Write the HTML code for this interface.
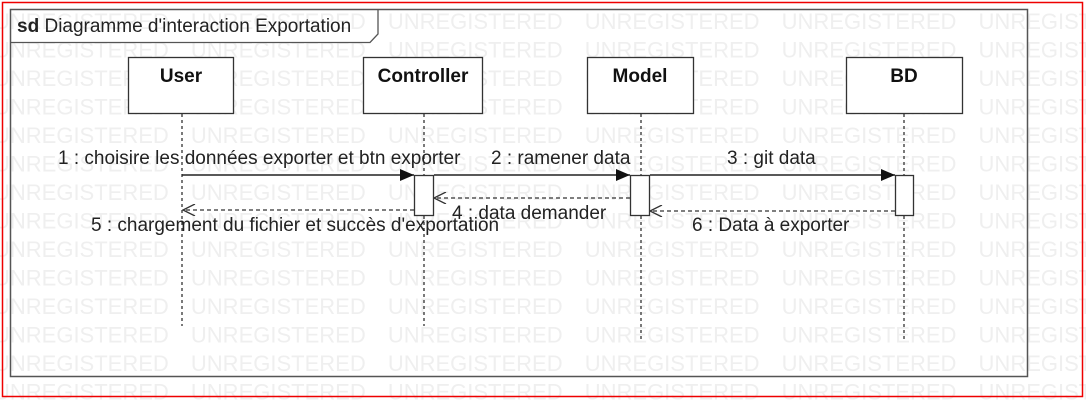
<!DOCTYPE html>
<html><head><meta charset="utf-8"><style>
html,body{margin:0;padding:0;background:#fff;}
svg{display:block;}
text{font-family:"Liberation Sans",sans-serif;}
</style></head><body>
<svg width="1086" height="404" viewBox="0 0 1086 404" xmlns="http://www.w3.org/2000/svg">
<defs>
<marker id="fill" markerWidth="14" markerHeight="12" refX="14" refY="6" orient="auto" markerUnits="userSpaceOnUse">
<path d="M0,0 L14,6 L0,12 Z" fill="#111"/>
</marker>
<marker id="open" markerWidth="14" markerHeight="12" refX="13" refY="6" orient="auto" markerUnits="userSpaceOnUse">
<path d="M1,0 L13,6 L1,12" fill="none" stroke="#333" stroke-width="1.3"/>
</marker>
</defs>
<rect x="0" y="0" width="1086" height="404" fill="#fff"/>
<g font-size="22" fill="#efefef">
<text x="-6" y="29" word-spacing="16">UNREGISTERED UNREGISTERED UNREGISTERED UNREGISTERED UNREGISTERED UNREGISTERED</text>
<text x="-6" y="57.5" word-spacing="16">UNREGISTERED UNREGISTERED UNREGISTERED UNREGISTERED UNREGISTERED UNREGISTERED</text>
<text x="-6" y="86" word-spacing="16">UNREGISTERED UNREGISTERED UNREGISTERED UNREGISTERED UNREGISTERED UNREGISTERED</text>
<text x="-6" y="114.5" word-spacing="16">UNREGISTERED UNREGISTERED UNREGISTERED UNREGISTERED UNREGISTERED UNREGISTERED</text>
<text x="-6" y="143" word-spacing="16">UNREGISTERED UNREGISTERED UNREGISTERED UNREGISTERED UNREGISTERED UNREGISTERED</text>
<text x="-6" y="171.5" word-spacing="16">UNREGISTERED UNREGISTERED UNREGISTERED UNREGISTERED UNREGISTERED UNREGISTERED</text>
<text x="-6" y="200" word-spacing="16">UNREGISTERED UNREGISTERED UNREGISTERED UNREGISTERED UNREGISTERED UNREGISTERED</text>
<text x="-6" y="228.5" word-spacing="16">UNREGISTERED UNREGISTERED UNREGISTERED UNREGISTERED UNREGISTERED UNREGISTERED</text>
<text x="-6" y="257" word-spacing="16">UNREGISTERED UNREGISTERED UNREGISTERED UNREGISTERED UNREGISTERED UNREGISTERED</text>
<text x="-6" y="285.5" word-spacing="16">UNREGISTERED UNREGISTERED UNREGISTERED UNREGISTERED UNREGISTERED UNREGISTERED</text>
<text x="-6" y="314" word-spacing="16">UNREGISTERED UNREGISTERED UNREGISTERED UNREGISTERED UNREGISTERED UNREGISTERED</text>
<text x="-6" y="342.5" word-spacing="16">UNREGISTERED UNREGISTERED UNREGISTERED UNREGISTERED UNREGISTERED UNREGISTERED</text>
<text x="-6" y="371" word-spacing="16">UNREGISTERED UNREGISTERED UNREGISTERED UNREGISTERED UNREGISTERED UNREGISTERED</text>
<text x="-6" y="399.5" word-spacing="16">UNREGISTERED UNREGISTERED UNREGISTERED UNREGISTERED UNREGISTERED UNREGISTERED</text>
</g>
<rect x="2.5" y="2.5" width="1080" height="394" fill="none" stroke="#e00" stroke-width="1.5"/>
<rect x="10.5" y="9.5" width="1017" height="367" fill="none" stroke="#555" stroke-width="1.5"/>
<path d="M10.5,42.5 L370,42.5 L378,34 L378,9.5" fill="none" stroke="#555" stroke-width="1.3"/>
<text x="17" y="32" font-size="19" fill="#222"><tspan font-weight="bold">sd</tspan> Diagramme d'interaction Exportation</text>
<g stroke="#333" stroke-width="1.3" stroke-dasharray="3,3">
<line x1="182" y1="114" x2="182" y2="326"/>
<line x1="424" y1="114" x2="424" y2="326"/>
<line x1="641" y1="114" x2="641" y2="340"/>
<line x1="904" y1="114" x2="904" y2="340"/>
</g>
<g fill="#fff" stroke="#333" stroke-width="1.3">
<rect x="128.5" y="57.5" width="105" height="56"/>
<rect x="363.5" y="57.5" width="119" height="56"/>
<rect x="587.5" y="57.5" width="106" height="56"/>
<rect x="846.5" y="57.5" width="116" height="56"/>
</g>
<g font-size="19" font-weight="bold" fill="#111" text-anchor="middle">
<text x="181" y="82">User</text>
<text x="423" y="82">Controller</text>
<text x="640" y="82">Model</text>
<text x="904" y="82">BD</text>
</g>
<g fill="#fff" stroke="#333" stroke-width="1.3">
<rect x="414.5" y="175.5" width="19" height="40"/>
<rect x="630.5" y="175.5" width="19" height="40"/>
<rect x="895.5" y="175.5" width="18" height="40"/>
</g>
<g stroke="#222" stroke-width="1.5">
<line x1="182" y1="175" x2="414" y2="175" marker-end="url(#fill)"/>
<line x1="434" y1="175" x2="630" y2="175" marker-end="url(#fill)"/>
<line x1="650" y1="175" x2="895" y2="175" marker-end="url(#fill)"/>
</g>
<g stroke="#333" stroke-width="1.3" stroke-dasharray="4,3">
<line x1="630" y1="198" x2="434" y2="198" marker-end="url(#open)"/>
<line x1="414" y1="210" x2="183" y2="210" marker-end="url(#open)"/>
<line x1="895" y1="211" x2="650" y2="211" marker-end="url(#open)"/>
</g>
<g font-size="19" fill="#222">
<text x="58" y="164">1 : choisire les données exporter et btn exporter</text>
<text x="491" y="164">2 : ramener data</text>
<text x="727" y="164">3 : git data</text>
<text x="452" y="219">4 : data demander</text>
<text x="91" y="231">5 : chargement du fichier et succès d'exportation</text>
<text x="692" y="231">6 : Data à exporter</text>
</g>
</svg>
</body></html>
